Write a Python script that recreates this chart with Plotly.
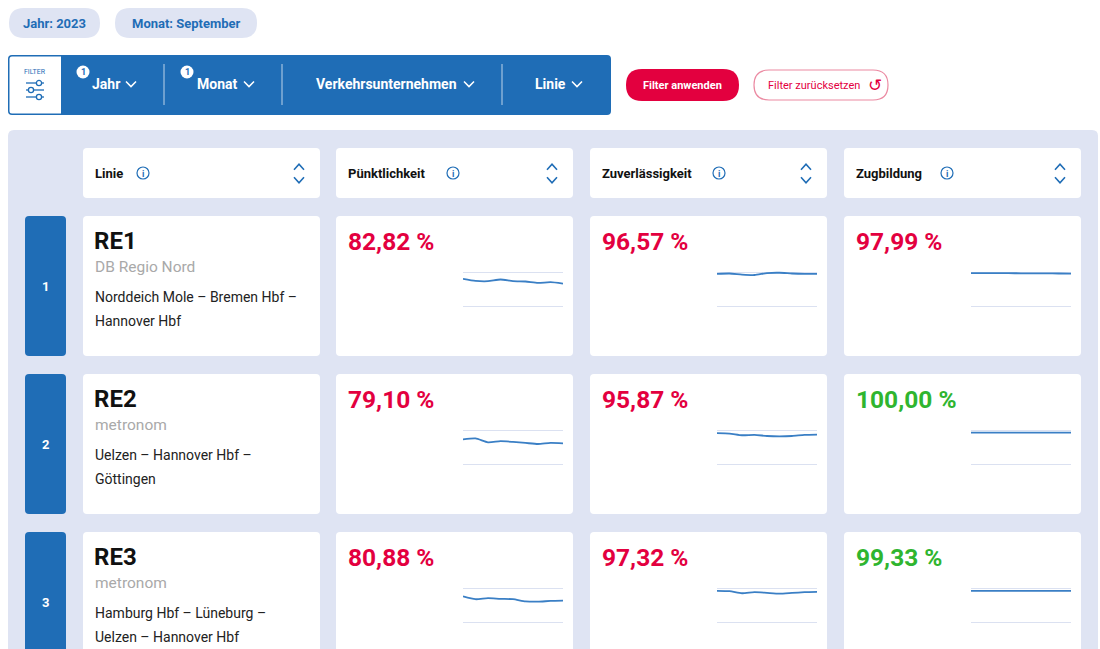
import plotly.graph_objects as go

W, H = 1100, 649

# --- Daten ---
jahr = "2023"
monat = "September"
filter_items = ["Jahr", "Monat", "Verkehrsunternehmen", "Linie"]
filter_badges = ["1", "1", "", ""]
spalten = ["Linie", "Pünktlichkeit", "Zuverlässigkeit", "Zugbildung"]
rang = ["1", "2", "3"]
linien = ["RE1", "RE2", "RE3"]
betreiber = ["DB Regio Nord", "metronom", "metronom"]
strecken = [
    ["Norddeich Mole – Bremen Hbf –", "Hannover Hbf"],
    ["Uelzen – Hannover Hbf –", "Göttingen"],
    ["Hamburg Hbf – Lüneburg –", "Uelzen – Hannover Hbf"],
]
puenktlichkeit = [82.82, 79.10, 80.88]
zuverlaessigkeit = [96.57, 95.87, 97.32]
zugbildung = [97.99, 100.00, 99.33]

monate = ["Jan", "Feb", "Mär", "Apr", "Mai", "Jun", "Jul", "Aug", "Sep"]
verlauf_puenktlichkeit = [
    [90.0, 87.0, 86.5, 89.0, 86.5, 86.0, 84.0, 85.0, 83.0],
    [86.1, 87.6, 81.9, 83.5, 82.5, 81.0, 79.4, 81.0, 80.4],
    [87.6, 83.5, 85.0, 84.0, 83.5, 80.4, 79.9, 81.0, 81.4],
]
verlauf_zuverlaessigkeit = [
    [97.3, 97.8, 96.2, 95.6, 98.4, 98.9, 97.8, 97.3, 97.3],
    [95.4, 94.8, 92.3, 92.8, 91.2, 90.7, 91.2, 92.8, 93.3],
    [95.9, 95.4, 92.3, 93.8, 92.8, 91.8, 92.8, 93.8, 94.3],
]
verlauf_zugbildung = [
    [98.4, 98.4, 98.3, 98.2, 98.1, 98.0, 97.9, 97.8, 97.7],
    [96.1, 96.1, 96.0, 96.0, 96.0, 96.0, 96.0, 96.0, 96.0],
    [95.9, 95.9, 95.9, 95.8, 95.8, 95.8, 95.8, 95.9, 95.9],
]

# --- Farben ---
BLAU = "#1f6db6"
PANEL = "#dfe4f3"
ROT = "#e3003f"
GRUEN = "#2fb52f"
GRAU = "#a9a9a9"
LINIE = "#3a7fc5"
GRID = "#dbe1f1"
FONT = "Roboto"


def rrect(x0, y0, x1, y1, r):
    return (f"M{x0 + r},{y0} L{x1 - r},{y0} Q{x1},{y0} {x1},{y0 + r} "
            f"L{x1},{y1 - r} Q{x1},{y1} {x1 - r},{y1} L{x0 + r},{y1} "
            f"Q{x0},{y1} {x0},{y1 - r} L{x0},{y0 + r} Q{x0},{y0} {x0 + r},{y0} Z")


def fmt(v):
    return f"{v:.2f}".replace(".", ",") + " %"


shapes = []
annos = []


def box(x0, y0, x1, y1, r, fill, line=None, lw=0):
    shapes.append(dict(type="path", path=rrect(x0, y0, x1, y1, r), xref="x", yref="y",
                       fillcolor=fill, line=dict(color=line or fill, width=lw), layer="below"))


def text(x, y, s, size, color, bold=False, anchor="left", family=FONT):
    annos.append(dict(x=x, y=y, xref="x", yref="y", text=f"<b>{s}</b>" if bold else s,
                      showarrow=False, xanchor=anchor, yanchor="middle",
                      font=dict(family=family, size=size, color=color)))


def chevron(cx, cy, color, up=False, w=5, h=2.8, lw=1.5):
    d = -h if up else h
    shapes.append(dict(type="path", xref="x", yref="y",
                       path=f"M{cx - w},{cy - d} L{cx},{cy + d} L{cx + w},{cy - d}",
                       line=dict(color=color, width=lw)))


def info(cx, cy):
    shapes.append(dict(type="circle", xref="x", yref="y", x0=cx - 6, x1=cx + 6, y0=cy - 6, y1=cy + 6,
                       line=dict(color=BLAU, width=1.2)))
    text(cx, cy + 0.5, "i", 9, BLAU, bold=True, anchor="center")


# --- Filter-Chips ---
box(9, 8, 100, 38, 15, PANEL)
text(54.5, 23, "Jahr: " + jahr, 13, BLAU, bold=True, anchor="center")
box(115, 8, 257, 38, 15, PANEL)
text(186, 23, "Monat: " + monat, 13, BLAU, bold=True, anchor="center")

# --- Filterleiste ---
box(8, 55, 611, 115, 4, BLAU)
shapes.append(dict(type="path", xref="x", yref="y", layer="below", fillcolor="white",
                   line=dict(color=BLAU, width=0),
                   path="M12,56.5 L61,56.5 L61,113.5 L12,113.5 Q9.5,113.5 9.5,111 L9.5,59 Q9.5,56.5 12,56.5 Z"))
text(35, 72, "FILTER", 7, BLAU, anchor="center")
for yy, kx in [(83, 39), (90, 31), (97, 39)]:
    shapes.append(dict(type="line", xref="x", yref="y", x0=26, x1=44, y0=yy, y1=yy,
                       line=dict(color=BLAU, width=1.3)))
    shapes.append(dict(type="circle", xref="x", yref="y", x0=kx - 2.6, x1=kx + 2.6,
                       y0=yy - 2.6, y1=yy + 2.6, fillcolor="white", line=dict(color=BLAU, width=1.3)))

item_x = [90, 195, 314, 533]
chev_x = [131, 249, 469, 577]
badge_x = [83, 187]
for i, name in enumerate(filter_items):
    text(item_x[i], 84, name, 14, "white", bold=True)
    chevron(chev_x[i], 84, "white", w=5, h=2.6, lw=1.5)
    if filter_badges[i]:
        bx = badge_x[i]
        shapes.append(dict(type="circle", xref="x", yref="y", x0=bx - 6.5, x1=bx + 6.5,
                           y0=65.5, y1=78.5, fillcolor="white", line=dict(width=0)))
        text(bx, 72.3, filter_badges[i], 9, BLAU, bold=True, anchor="center")
for sx in [164, 282, 502]:
    shapes.append(dict(type="line", xref="x", yref="y", x0=sx, x1=sx, y0=64, y1=105,
                       line=dict(color="rgba(255,255,255,0.7)", width=1)))

# --- Buttons ---
box(626, 69, 739, 101, 16, ROT)
text(682.5, 85, "Filter anwenden", 11, "white", bold=True, anchor="center")
box(754, 70, 888, 100, 15, "white", line="#eb8aa2", lw=1.2)
text(766, 85, "Filter zurücksetzen", 11, ROT)
text(875, 85, "↺", 17, ROT, anchor="center", family="DejaVu Sans")

# --- Tabelle ---
box(8, 130, 1098, 700, 6, PANEL)
col_x = [83, 336, 590, 844]
col_w = 237
row_y = [216, 374, 532]
row_h = 140
info_dx = [60, 117, 129, 103]

for c, name in enumerate(spalten):
    cx = col_x[c]
    box(cx, 148, cx + col_w, 198, 4, "white")
    text(cx + 10, 173, name, 13, "#111111", bold=True)
    info(cx + info_dx[c], 173)
    chevron(cx + 216, 167, BLAU, up=True, w=5, h=2.8, lw=1.6)
    chevron(cx + 216, 180, BLAU, w=5, h=2.8, lw=1.6)

werte = [puenktlichkeit, zuverlaessigkeit, zugbildung]
verlaeufe = [verlauf_puenktlichkeit, verlauf_zuverlaessigkeit, verlauf_zugbildung]

fig = go.Figure()
fig.add_trace(go.Scatter(x=[None], y=[None], xaxis="x", yaxis="y", showlegend=False, hoverinfo="skip"))

layout_axes = {}
ax_n = 2
for r in range(len(linien)):
    ry = row_y[r]
    # Rang
    box(25, ry, 66, ry + row_h, 4, BLAU)
    text(45.5, ry + 70, rang[r], 13, "white", bold=True, anchor="center")
    # Linie
    box(col_x[0], ry, col_x[0] + col_w, ry + row_h, 4, "white")
    text(92, ry + 25, linien[r], 24, "#111111", bold=True)
    text(93, ry + 51, betreiber[r], 15.5, GRAU)
    text(93, ry + 81, strecken[r][0], 14, "#222222")
    text(93, ry + 105, strecken[r][1], 14, "#222222")
    # Kennzahlen
    for k in range(3):
        cx = col_x[k + 1]
        box(cx, ry, cx + col_w, ry + row_h, 4, "white")
        v = werte[k][r]
        farbe = GRUEN if v >= 99 else ROT
        text(cx + 10, ry + 25, fmt(v), 24.5, farbe, bold=True)

        fig.add_trace(go.Scatter(
            x=monate, y=verlaeufe[k][r], mode="lines",
            line=dict(color=LINIE, width=1.8, shape="spline", smoothing=0.6),
            xaxis=f"x{ax_n}", yaxis=f"y{ax_n}", showlegend=False,
            hovertemplate="%{x}: %{y:.1f} %<extra></extra>"))
        layout_axes[f"xaxis{ax_n}"] = dict(
            domain=[(cx + 127) / W, (cx + 227) / W], anchor=f"y{ax_n}",
            range=[0, len(monate) - 1], visible=False)
        layout_axes[f"yaxis{ax_n}"] = dict(
            domain=[1 - (ry + 92) / H, 1 - (ry + 54) / H], anchor=f"x{ax_n}",
            range=[47.06, 102.94], tickvals=[50, 100], showgrid=True, gridcolor=GRID,
            gridwidth=1, zeroline=False, showticklabels=False, showline=False, ticks="")
        ax_n += 1

fig.update_layout(
    width=W, height=H,
    margin=dict(l=0, r=0, t=0, b=0),
    paper_bgcolor="white",
    plot_bgcolor="rgba(0,0,0,0)",
    xaxis=dict(range=[0, W], visible=False, domain=[0, 1], fixedrange=True),
    yaxis=dict(range=[H, 0], visible=False, domain=[0, 1], fixedrange=True),
    shapes=shapes,
    annotations=annos,
    font=dict(family=FONT),
    **layout_axes,
)

# Seitenrand entfernen, damit die Grafik genau das Fenster füllt
fig.write_html("out.html", config={"displayModeBar": False},
               post_script="document.body.style.margin='0';document.body.style.overflow='hidden';")
